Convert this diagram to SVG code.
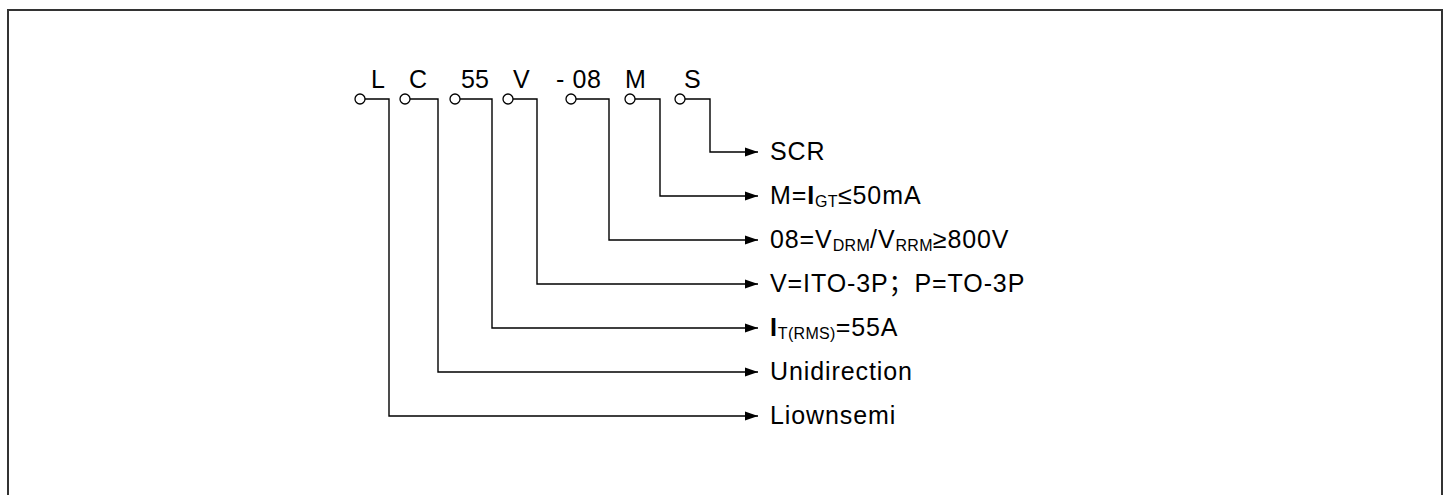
<svg xmlns="http://www.w3.org/2000/svg" width="1449" height="495" viewBox="0 0 1449 495">
<style>
.t{font-family:"Liberation Sans",Arial,"Noto Sans CJK SC",sans-serif;font-size:25px;fill:#000}
.r{letter-spacing:0.9px}
.s{font-size:16px;letter-spacing:0.3px}
.b{font-weight:bold}
.w{fill:none;stroke:#000;stroke-width:1.4}
.c{fill:#fff;stroke:#000;stroke-width:1.3}
</style>
<defs>
<marker id="ah" markerWidth="14" markerHeight="10" refX="13" refY="5" orient="auto" markerUnits="userSpaceOnUse">
<path d="M0,0.5 L13,5 L0,9.5 Z" fill="#000"/>
</marker>
</defs>
<rect x="0" y="0" width="1449" height="495" fill="#fff"/>
<rect id="frame" x="8" y="10" width="1434" height="500" fill="none" stroke="#333" stroke-width="2"/>
<g id="connectors">
<path class="w" d="M365,99 H389 V416 H758" marker-end="url(#ah)"/>
<path class="w" d="M410,99 H438 V372 H758" marker-end="url(#ah)"/>
<path class="w" d="M460,99 H492 V328 H758" marker-end="url(#ah)"/>
<path class="w" d="M513,99 H537 V284 H758" marker-end="url(#ah)"/>
<path class="w" d="M576,99 H609 V240 H758" marker-end="url(#ah)"/>
<path class="w" d="M635,99 H660 V196 H758" marker-end="url(#ah)"/>
<path class="w" d="M685,99 H710 V152 H758" marker-end="url(#ah)"/>
</g>
<g id="n-L"><circle class="c" cx="360" cy="99" r="5"/><text class="t" x="371" y="88">L</text></g>
<g id="n-C"><circle class="c" cx="405" cy="99" r="5"/><text class="t" x="409" y="88">C</text></g>
<g id="n-55"><circle class="c" cx="455" cy="99" r="5"/><text class="t" x="461" y="88">55</text></g>
<g id="n-V"><circle class="c" cx="508" cy="99" r="5"/><text class="t" x="513" y="88">V</text></g>
<g id="n-08"><circle class="c" cx="571" cy="99" r="5"/><text class="t" x="556" y="88" style="letter-spacing:0.6px">- 08</text></g>
<g id="n-M"><circle class="c" cx="630" cy="99" r="5"/><text class="t" x="625" y="88">M</text></g>
<g id="n-S"><circle class="c" cx="680" cy="99" r="5"/><text class="t" x="684" y="88">S</text></g>
<g id="l-scr"><text class="t r" x="770" y="160">SCR</text></g>
<g id="l-m"><text class="t r" x="770" y="204">M=<tspan class="b">I</tspan><tspan class="s" dy="3">GT</tspan><tspan dy="-3">≤50mA</tspan></text></g>
<g id="l-08"><text class="t r" x="770" y="248">08=V<tspan class="s" dy="3">DRM</tspan><tspan dy="-3">/V</tspan><tspan class="s" dy="3">RRM</tspan><tspan dy="-3">≥800V</tspan></text></g>
<g id="l-v"><text class="t r" x="770" y="292">V=ITO-3P；P=TO-3P</text></g>
<g id="l-it"><text class="t r" x="770" y="336"><tspan class="b">I</tspan><tspan class="s" dy="3">T(RMS)</tspan><tspan dy="-3">=55A</tspan></text></g>
<g id="l-u"><text class="t r" x="770" y="380">Unidirection</text></g>
<g id="l-li"><text class="t r" x="770" y="424">Liownsemi</text></g>
</svg>
